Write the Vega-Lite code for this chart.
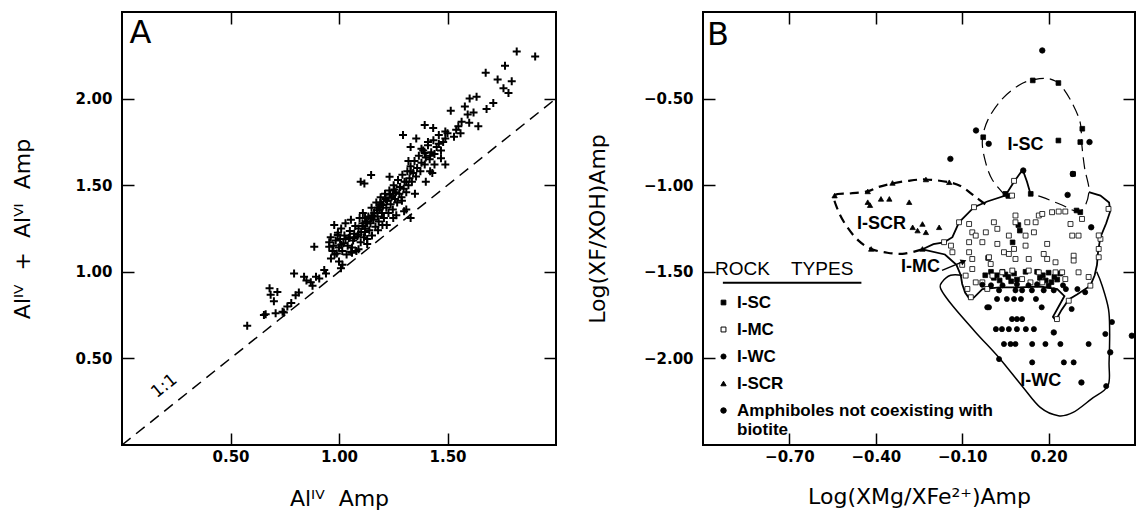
{
  "$schema": "https://vega.github.io/schema/vega-lite/v6.json",
  "background": "white",
  "padding": {"left": 10, "top": 10, "right": 0, "bottom": 0},
  "bounds": "flush",
  "spacing": 147,
  "config": {
    "view": {"stroke": "black", "strokeWidth": 2},
    "axis": {
      "domain": false, "grid": false, "tickColor": "black", "tickWidth": 1.5, "tickSize": -12,
      "labelFont": "DejaVu Sans", "labelFontSize": 15, "labelFontWeight": "bold", "labelColor": "black",
      "titleFont": "DejaVu Sans", "titleFontSize": 22, "titleFontWeight": "normal", "titleColor": "black",
      "labelPadding": 16
    },
    "axisLeft": {"labelPadding": 22},
    "legend": {
      "orient": "none", "legendX": 593, "legendY": 248,
      "titleFont": "Liberation Sans", "titleFontSize": 19, "titleFontWeight": "normal", "titleColor": "black", "titlePadding": 15,
      "labelFont": "Liberation Sans", "labelFontSize": 17, "labelFontWeight": "bold", "labelColor": "black",
      "rowPadding": 9, "symbolStrokeColor": "black", "symbolStrokeWidth": 1, "labelLimit": 400, "labelOffset": 5
    }
  },
  "datasets": {
    "a_pts": [
      {"x":0.577,"y":0.688},{"x":0.654,"y":0.75},{"x":0.662,"y":0.755},{"x":0.685,"y":0.867},{"x":0.68,"y":0.905},{"x":0.70,"y":0.83},{"x":0.716,"y":0.884},{"x":0.708,"y":0.76},{"x":0.74,"y":0.77},{"x":0.746,"y":0.765},{"x":0.762,"y":0.80},{"x":0.78,"y":0.82},{"x":0.793,"y":0.99},{"x":0.80,"y":0.865},{"x":0.815,"y":0.88},{"x":0.839,"y":0.971},{"x":0.85,"y":0.95},{"x":0.87,"y":0.94},{"x":0.878,"y":0.92},{"x":0.894,"y":0.971},{"x":0.886,"y":1.145},{"x":0.909,"y":0.961},{"x":0.932,"y":1.01},{"x":0.94,"y":0.99},{"x":0.955,"y":1.145},{"x":0.963,"y":1.077},{"x":0.978,"y":1.27},{"x":0.994,"y":1.212},{"x":1.0,"y":1.06},{"x":1.009,"y":1.02},{"x":1.016,"y":1.04},{"x":1.056,"y":1.116},{"x":1.09,"y":1.13},{"x":1.117,"y":1.51},{"x":1.148,"y":1.559},{"x":1.233,"y":1.549},{"x":1.10,"y":1.52},
      {"x":0.955,"y":1.17},{"x":0.962,"y":1.20},{"x":0.97,"y":1.12},{"x":0.975,"y":1.15},{"x":0.985,"y":1.18},{"x":0.99,"y":1.105},{"x":0.995,"y":1.225},{"x":1.0,"y":1.14},{"x":1.005,"y":1.19},{"x":1.01,"y":1.25},{"x":1.015,"y":1.12},{"x":1.02,"y":1.165},{"x":1.025,"y":1.21},{"x":1.03,"y":1.28},{"x":1.035,"y":1.10},{"x":1.04,"y":1.15},{"x":1.045,"y":1.195},{"x":1.05,"y":1.235},{"x":1.055,"y":1.30},{"x":1.06,"y":1.14},{"x":1.065,"y":1.18},{"x":1.07,"y":1.22},{"x":1.075,"y":1.265},{"x":1.08,"y":1.12},{"x":1.085,"y":1.205},{"x":1.09,"y":1.25},{"x":1.095,"y":1.31},{"x":1.10,"y":1.17},{"x":1.102,"y":1.23},{"x":1.108,"y":1.28},{"x":1.11,"y":1.34},{"x":1.115,"y":1.20},{"x":1.12,"y":1.25},{"x":1.125,"y":1.29},{"x":1.13,"y":1.16},{"x":1.135,"y":1.32},{"x":1.14,"y":1.24},{"x":1.145,"y":1.28},{"x":1.15,"y":1.37},{"x":1.152,"y":1.21},{"x":1.158,"y":1.30},{"x":1.162,"y":1.34},{"x":1.168,"y":1.26},{"x":1.172,"y":1.40},{"x":1.178,"y":1.32},{"x":1.183,"y":1.29},{"x":1.188,"y":1.36},{"x":1.192,"y":1.43},{"x":1.198,"y":1.34},{"x":1.203,"y":1.385},{"x":1.207,"y":1.31},{"x":1.212,"y":1.45},{"x":1.218,"y":1.37},{"x":1.222,"y":1.41},{"x":1.228,"y":1.34},{"x":1.232,"y":1.47},{"x":1.238,"y":1.39},{"x":1.242,"y":1.43},{"x":1.248,"y":1.36},{"x":1.252,"y":1.50},{"x":1.258,"y":1.42},{"x":1.262,"y":1.46},{"x":1.268,"y":1.40},{"x":1.272,"y":1.53},{"x":1.278,"y":1.45},{"x":1.282,"y":1.49},{"x":1.288,"y":1.43},{"x":1.292,"y":1.56},{"x":1.298,"y":1.48},{"x":1.302,"y":1.52},{"x":1.31,"y":1.46},{"x":1.315,"y":1.58},{"x":1.32,"y":1.50},{"x":1.325,"y":1.54},{"x":1.33,"y":1.61},{"x":1.336,"y":1.52},{"x":1.342,"y":1.57},{"x":1.348,"y":1.64},{"x":1.355,"y":1.55},{"x":1.36,"y":1.60},{"x":1.368,"y":1.67},{"x":1.375,"y":1.58},{"x":1.38,"y":1.63},{"x":1.388,"y":1.70},{"x":1.395,"y":1.62},{"x":1.40,"y":1.66},{"x":1.41,"y":1.73},{"x":1.418,"y":1.65},{"x":1.425,"y":1.69},{"x":1.435,"y":1.76},{"x":1.44,"y":1.68},{"x":1.45,"y":1.72},{"x":1.46,"y":1.79},{"x":1.47,"y":1.70},{"x":1.48,"y":1.75},{"x":1.49,"y":1.81},
      {"x":1.01,"y":1.156},{"x":0.98,"y":1.10},{"x":1.06,"y":1.11},{"x":1.13,"y":1.19},{"x":1.2,"y":1.27},{"x":1.264,"y":1.327},{"x":1.31,"y":1.36},{"x":1.18,"y":1.24},{"x":1.25,"y":1.31},{"x":1.35,"y":1.45},{"x":1.40,"y":1.52},{"x":1.43,"y":1.57},
      {"x":1.07,"y":1.195},{"x":1.09,"y":1.215},{"x":1.11,"y":1.265},{"x":1.13,"y":1.28},{"x":1.155,"y":1.325},{"x":1.175,"y":1.355},{"x":1.195,"y":1.39},{"x":1.215,"y":1.42},{"x":1.235,"y":1.445},{"x":1.255,"y":1.475},{"x":1.03,"y":1.19},{"x":1.05,"y":1.20},{"x":1.12,"y":1.31},{"x":1.19,"y":1.40},
      {"x":1.819,"y":2.272},{"x":1.904,"y":2.243},{"x":1.765,"y":2.19},{"x":1.676,"y":2.149},{"x":1.731,"y":2.11},{"x":1.796,"y":2.10},{"x":1.758,"y":2.06},{"x":1.781,"y":2.033},{"x":1.634,"y":2.01},{"x":1.602,"y":2.0},{"x":1.711,"y":1.975},{"x":1.58,"y":1.954},{"x":1.515,"y":1.93},{"x":1.68,"y":1.94},{"x":1.593,"y":1.908},{"x":1.642,"y":1.84},{"x":1.565,"y":1.867},{"x":1.395,"y":1.847},{"x":1.434,"y":1.83},{"x":1.295,"y":1.79},{"x":1.54,"y":1.82},{"x":1.50,"y":1.80},{"x":1.356,"y":1.77},{"x":1.41,"y":1.75},{"x":1.49,"y":1.77},{"x":1.56,"y":1.80},{"x":1.33,"y":1.72},{"x":1.395,"y":1.686},{"x":1.42,"y":1.67},{"x":1.47,"y":1.655},{"x":1.44,"y":1.62},{"x":1.42,"y":1.58},{"x":1.49,"y":1.62},{"x":1.32,"y":1.64},{"x":1.33,"y":1.58},{"x":1.31,"y":1.52},{"x":1.28,"y":1.49},{"x":1.25,"y":1.45},{"x":1.29,"y":1.41},{"x":1.22,"y":1.41},{"x":1.30,"y":1.35},{"x":1.33,"y":1.31},{"x":1.18,"y":1.37},{"x":1.15,"y":1.31},{"x":1.22,"y":1.27},{"x":1.12,"y":1.23},{"x":1.53,"y":1.78},{"x":1.60,"y":1.86},{"x":1.62,"y":1.92},{"x":1.55,"y":1.84},{"x":1.46,"y":1.74},{"x":1.38,"y":1.71}
    ],
    "a_line": [{"x":0,"y":0},{"x":2,"y":2}],
    "a_ann": [{"x":0.195,"y":0.34,"t":"1:1"}],
    "a_letter": [{"x":0.035,"y":2.32,"t":"A"}],
    "b_letter": [{"x":-0.986,"y":-0.19,"t":"B"}],
    "b_pts": [
      {"x":0.145,"y":-0.395,"type":"I-SC"},{"x":0.234,"y":-0.41,"type":"I-SC"},{"x":0.317,"y":-0.674,"type":"I-SC"},{"x":0.31,"y":-0.751,"type":"I-SC"},{"x":0.234,"y":-0.742,"type":"I-SC"},{"x":0.285,"y":-0.935,"type":"I-SC"},{"x":-0.027,"y":-0.723,"type":"I-SC"},{"x":0.05,"y":-1.05,"type":"I-SC"},{"x":0.138,"y":-1.05,"type":"I-SC"},{"x":0.31,"y":-1.156,"type":"I-SC"},{"x":0.297,"y":-1.146,"type":"I-SC"},{"x":0.10,"y":-1.262,"type":"I-SC"},{"x":0.06,"y":-1.062,"type":"I-SC"},{"x":-0.01,"y":-1.42,"type":"I-SC"},{"x":0.095,"y":-1.23,"type":"I-SC"},{"x":0.0,"y":-1.50,"type":"I-SC"},{"x":0.02,"y":-1.52,"type":"I-SC"},{"x":0.04,"y":-1.50,"type":"I-SC"},{"x":0.06,"y":-1.53,"type":"I-SC"},{"x":0.08,"y":-1.51,"type":"I-SC"},{"x":0.03,"y":-1.55,"type":"I-SC"},{"x":0.07,"y":-1.555,"type":"I-SC"},{"x":0.01,"y":-1.535,"type":"I-SC"},{"x":0.09,"y":-1.545,"type":"I-SC"},{"x":0.05,"y":-1.515,"type":"I-SC"},{"x":0.16,"y":-1.50,"type":"I-SC"},{"x":0.18,"y":-1.52,"type":"I-SC"},{"x":0.20,"y":-1.505,"type":"I-SC"},{"x":0.22,"y":-1.53,"type":"I-SC"},{"x":0.24,"y":-1.51,"type":"I-SC"},{"x":0.19,"y":-1.55,"type":"I-SC"},{"x":0.21,"y":-1.56,"type":"I-SC"},{"x":0.17,"y":-1.535,"type":"I-SC"},{"x":0.23,"y":-1.545,"type":"I-SC"},{"x":0.20,"y":-1.58,"type":"I-SC"},{"x":-0.02,"y":-1.52,"type":"I-SC"},{"x":0.12,"y":-1.50,"type":"I-SC"},{"x":0.075,"y":-1.33,"type":"I-SC"},
      {"x":-0.163,"y":-1.329,"type":"I-MC"},{"x":-0.139,"y":-1.349,"type":"I-MC"},{"x":-0.134,"y":-1.387,"type":"I-MC"},{"x":-0.111,"y":-1.214,"type":"I-MC"},{"x":-0.076,"y":-1.224,"type":"I-MC"},{"x":-0.059,"y":-1.127,"type":"I-MC"},{"x":-0.065,"y":-1.272,"type":"I-MC"},{"x":-0.053,"y":-1.291,"type":"I-MC"},{"x":-0.018,"y":-1.272,"type":"I-MC"},{"x":-0.030,"y":-1.329,"type":"I-MC"},{"x":-0.076,"y":-1.329,"type":"I-MC"},{"x":-0.076,"y":-1.387,"type":"I-MC"},{"x":-0.065,"y":-1.426,"type":"I-MC"},{"x":0.010,"y":-1.214,"type":"I-MC"},{"x":0.022,"y":-1.252,"type":"I-MC"},{"x":0.022,"y":-1.339,"type":"I-MC"},{"x":0.045,"y":-1.387,"type":"I-MC"},{"x":0.062,"y":-1.397,"type":"I-MC"},{"x":0.085,"y":-1.175,"type":"I-MC"},{"x":0.085,"y":-1.214,"type":"I-MC"},{"x":0.062,"y":-1.291,"type":"I-MC"},{"x":0.080,"y":-1.368,"type":"I-MC"},{"x":0.085,"y":-1.426,"type":"I-MC"},{"x":0.120,"y":-1.291,"type":"I-MC"},{"x":0.120,"y":-1.349,"type":"I-MC"},{"x":0.131,"y":-1.426,"type":"I-MC"},{"x":0.149,"y":-1.272,"type":"I-MC"},{"x":0.126,"y":-1.214,"type":"I-MC"},{"x":0.155,"y":-1.214,"type":"I-MC"},{"x":0.166,"y":-1.175,"type":"I-MC"},{"x":0.178,"y":-1.166,"type":"I-MC"},{"x":0.195,"y":-1.339,"type":"I-MC"},{"x":0.183,"y":-1.397,"type":"I-MC"},{"x":0.195,"y":-1.426,"type":"I-MC"},{"x":0.224,"y":-1.445,"type":"I-MC"},{"x":0.212,"y":-1.156,"type":"I-MC"},{"x":0.235,"y":-1.152,"type":"I-MC"},{"x":0.258,"y":-1.152,"type":"I-MC"},{"x":0.276,"y":-1.224,"type":"I-MC"},{"x":0.282,"y":-1.291,"type":"I-MC"},{"x":0.304,"y":-1.291,"type":"I-MC"},{"x":0.287,"y":-1.407,"type":"I-MC"},{"x":0.287,"y":-1.435,"type":"I-MC"},{"x":0.316,"y":-1.195,"type":"I-MC"},{"x":0.408,"y":-1.137,"type":"I-MC"},{"x":0.380,"y":-1.310,"type":"I-MC"},{"x":0.374,"y":-1.368,"type":"I-MC"},{"x":0.374,"y":-1.416,"type":"I-MC"},{"x":0.345,"y":-1.58,"type":"I-MC"},{"x":0.304,"y":-1.503,"type":"I-MC"},{"x":0.270,"y":-1.667,"type":"I-MC"},{"x":0.229,"y":-1.773,"type":"I-MC"},{"x":-0.088,"y":-1.522,"type":"I-MC"},{"x":-0.082,"y":-1.599,"type":"I-MC"},{"x":-0.070,"y":-1.647,"type":"I-MC"},{"x":-0.053,"y":-1.561,"type":"I-MC"},{"x":-0.065,"y":-1.484,"type":"I-MC"},{"x":-0.007,"y":-1.416,"type":"I-MC"},{"x":-0.001,"y":-1.455,"type":"I-MC"},{"x":0.005,"y":-1.522,"type":"I-MC"},{"x":0.039,"y":-1.503,"type":"I-MC"},{"x":0.074,"y":-1.493,"type":"I-MC"},{"x":0.108,"y":-1.542,"type":"I-MC"},{"x":0.131,"y":-1.493,"type":"I-MC"},{"x":0.137,"y":-1.561,"type":"I-MC"},{"x":0.166,"y":-1.503,"type":"I-MC"},{"x":0.178,"y":-1.561,"type":"I-MC"},{"x":0.224,"y":-1.503,"type":"I-MC"},{"x":0.247,"y":-1.503,"type":"I-MC"},{"x":0.258,"y":-1.542,"type":"I-MC"},{"x":-0.03,"y":-1.561,"type":"I-MC"},{"x":-0.013,"y":-1.599,"type":"I-MC"},{"x":0.073,"y":-1.06,"type":"I-MC"},{"x":0.08,"y":-0.975,"type":"I-MC"},{"x":0.374,"y":-1.29,"type":"I-MC"},{"x":0.339,"y":-1.53,"type":"I-MC"},{"x":-0.10,"y":-1.46,"type":"I-MC"},
      {"x":0.028,"y":-1.607,"type":"I-WC"},{"x":0.085,"y":-1.607,"type":"I-WC"},{"x":0.108,"y":-1.607,"type":"I-WC"},{"x":0.142,"y":-1.607,"type":"I-WC"},{"x":0.183,"y":-1.607,"type":"I-WC"},{"x":0.218,"y":-1.607,"type":"I-WC"},{"x":0.021,"y":-1.657,"type":"I-WC"},{"x":0.055,"y":-1.657,"type":"I-WC"},{"x":0.080,"y":-1.657,"type":"I-WC"},{"x":0.104,"y":-1.657,"type":"I-WC"},{"x":0.156,"y":-1.657,"type":"I-WC"},{"x":-0.007,"y":-1.705,"type":"I-WC"},{"x":0.176,"y":-1.705,"type":"I-WC"},{"x":0.28,"y":-1.715,"type":"I-WC"},{"x":0.073,"y":-1.773,"type":"I-WC"},{"x":0.09,"y":-1.773,"type":"I-WC"},{"x":0.108,"y":-1.773,"type":"I-WC"},{"x":0.017,"y":-1.831,"type":"I-WC"},{"x":0.038,"y":-1.831,"type":"I-WC"},{"x":0.062,"y":-1.831,"type":"I-WC"},{"x":0.090,"y":-1.831,"type":"I-WC"},{"x":0.121,"y":-1.831,"type":"I-WC"},{"x":0.149,"y":-1.831,"type":"I-WC"},{"x":0.045,"y":-1.917,"type":"I-WC"},{"x":0.068,"y":-1.917,"type":"I-WC"},{"x":0.085,"y":-1.917,"type":"I-WC"},{"x":0.143,"y":-1.917,"type":"I-WC"},{"x":0.189,"y":-1.917,"type":"I-WC"},{"x":0.241,"y":-1.917,"type":"I-WC"},{"x":0.339,"y":-1.917,"type":"I-WC"},{"x":0.143,"y":-2.023,"type":"I-WC"},{"x":0.253,"y":-2.023,"type":"I-WC"},{"x":0.287,"y":-2.023,"type":"I-WC"},{"x":-0.013,"y":-1.705,"type":"I-WC"},{"x":0.028,"y":-2.004,"type":"I-WC"},{"x":0.42,"y":-1.79,"type":"I-WC"},{"x":0.397,"y":-1.859,"type":"I-WC"},{"x":0.327,"y":-1.618,"type":"I-WC"},{"x":0.30,"y":-1.60,"type":"I-WC"},{"x":0.40,"y":-2.16,"type":"I-WC"},{"x":-0.03,"y":-1.575,"type":"I-WC"},{"x":0.0,"y":-1.578,"type":"I-WC"},{"x":0.04,"y":-1.578,"type":"I-WC"},{"x":0.09,"y":-1.572,"type":"I-WC"},{"x":0.13,"y":-1.578,"type":"I-WC"},{"x":0.16,"y":-1.572,"type":"I-WC"},{"x":0.25,"y":-1.578,"type":"I-WC"},{"x":0.26,"y":-1.60,"type":"I-WC"},
      {"x":-0.543,"y":-1.06,"type":"I-SCR"},{"x":-0.428,"y":-1.036,"type":"I-SCR"},{"x":-0.428,"y":-1.098,"type":"I-SCR"},{"x":-0.42,"y":-1.115,"type":"I-SCR"},{"x":-0.382,"y":-1.079,"type":"I-SCR"},{"x":-0.353,"y":-1.079,"type":"I-SCR"},{"x":-0.342,"y":-0.987,"type":"I-SCR"},{"x":-0.284,"y":-1.098,"type":"I-SCR"},{"x":-0.226,"y":-0.967,"type":"I-SCR"},{"x":-0.145,"y":-0.983,"type":"I-SCR"},{"x":-0.272,"y":-1.243,"type":"I-SCR"},{"x":-0.255,"y":-1.262,"type":"I-SCR"},{"x":-0.238,"y":-1.224,"type":"I-SCR"},{"x":-0.226,"y":-1.272,"type":"I-SCR"},{"x":-0.18,"y":-1.243,"type":"I-SCR"},{"x":-0.416,"y":-1.368,"type":"I-SCR"},{"x":-0.238,"y":-1.368,"type":"I-SCR"},
      {"x":0.178,"y":-0.222,"type":"Amphiboles not coexisting with biotite"},{"x":-0.052,"y":-0.684,"type":"Amphiboles not coexisting with biotite"},{"x":-0.008,"y":-0.761,"type":"Amphiboles not coexisting with biotite"},{"x":-0.141,"y":-0.848,"type":"Amphiboles not coexisting with biotite"},{"x":0.342,"y":-0.751,"type":"Amphiboles not coexisting with biotite"},{"x":0.284,"y":-0.935,"type":"Amphiboles not coexisting with biotite"},{"x":0.266,"y":-1.056,"type":"Amphiboles not coexisting with biotite"},{"x":0.348,"y":-1.243,"type":"Amphiboles not coexisting with biotite"},{"x":0.218,"y":-1.85,"type":"Amphiboles not coexisting with biotite"},{"x":0.489,"y":-1.869,"type":"Amphiboles not coexisting with biotite"},{"x":0.414,"y":-1.965,"type":"Amphiboles not coexisting with biotite"},{"x":0.314,"y":-2.139,"type":"Amphiboles not coexisting with biotite"},{"x":0.112,"y":-0.915,"type":"Amphiboles not coexisting with biotite"}
    ],
    "b_curves": [
      {"c":"SC","o":1,"x":0.05,"y":-1.06},{"c":"SC","o":2,"x":0.005,"y":-0.97},{"c":"SC","o":3,"x":-0.02,"y":-0.86},{"c":"SC","o":4,"x":-0.03,"y":-0.74},{"c":"SC","o":5,"x":-0.01,"y":-0.62},{"c":"SC","o":6,"x":0.04,"y":-0.50},{"c":"SC","o":7,"x":0.10,"y":-0.42},{"c":"SC","o":8,"x":0.15,"y":-0.39},{"c":"SC","o":9,"x":0.20,"y":-0.385},{"c":"SC","o":10,"x":0.24,"y":-0.42},{"c":"SC","o":11,"x":0.28,"y":-0.52},{"c":"SC","o":12,"x":0.31,"y":-0.64},{"c":"SC","o":13,"x":0.315,"y":-0.76},{"c":"SC","o":14,"x":0.325,"y":-0.90},{"c":"SC","o":15,"x":0.34,"y":-1.04},{"c":"SC","o":16,"x":0.31,"y":-1.15},{"c":"SC","o":17,"x":0.24,"y":-1.11},{"c":"SC","o":18,"x":0.18,"y":-1.07},{"c":"SC","o":19,"x":0.137,"y":-1.05},
      {"c":"SCR","o":1,"x":-0.02,"y":-1.11},{"c":"SCR","o":2,"x":-0.06,"y":-1.06},{"c":"SCR","o":3,"x":-0.10,"y":-1.01},{"c":"SCR","o":4,"x":-0.145,"y":-0.983},{"c":"SCR","o":5,"x":-0.226,"y":-0.967},{"c":"SCR","o":6,"x":-0.29,"y":-0.975},{"c":"SCR","o":7,"x":-0.342,"y":-0.99},{"c":"SCR","o":8,"x":-0.39,"y":-1.01},{"c":"SCR","o":9,"x":-0.43,"y":-1.036},{"c":"SCR","o":10,"x":-0.49,"y":-1.048},{"c":"SCR","o":11,"x":-0.543,"y":-1.06},{"c":"SCR","o":12,"x":-0.53,"y":-1.15},{"c":"SCR","o":13,"x":-0.50,"y":-1.24},{"c":"SCR","o":14,"x":-0.46,"y":-1.32},{"c":"SCR","o":15,"x":-0.416,"y":-1.368},{"c":"SCR","o":16,"x":-0.36,"y":-1.39},{"c":"SCR","o":17,"x":-0.30,"y":-1.395},{"c":"SCR","o":18,"x":-0.238,"y":-1.37},
      {"c":"MC","o":1,"x":-0.238,"y":-1.37},{"c":"MC","o":2,"x":-0.20,"y":-1.34},{"c":"MC","o":3,"x":-0.163,"y":-1.33},{"c":"MC","o":4,"x":-0.134,"y":-1.30},{"c":"MC","o":5,"x":-0.111,"y":-1.214},{"c":"MC","o":6,"x":-0.059,"y":-1.127},{"c":"MC","o":7,"x":-0.013,"y":-1.094},{"c":"MC","o":8,"x":0.05,"y":-1.06},{"c":"MC","o":9,"x":0.08,"y":-0.98},{"c":"MC","o":10,"x":0.11,"y":-0.91},{"c":"MC","o":11,"x":0.125,"y":-0.98},{"c":"MC","o":12,"x":0.137,"y":-1.05},
      {"c":"MC2","o":1,"x":0.34,"y":-1.04},{"c":"MC2","o":2,"x":0.38,"y":-1.06},{"c":"MC2","o":3,"x":0.41,"y":-1.10},{"c":"MC2","o":4,"x":0.414,"y":-1.15},{"c":"MC2","o":5,"x":0.40,"y":-1.22},{"c":"MC2","o":6,"x":0.38,"y":-1.30},{"c":"MC2","o":7,"x":0.372,"y":-1.38},{"c":"MC2","o":8,"x":0.368,"y":-1.46},{"c":"MC2","o":9,"x":0.36,"y":-1.52},{"c":"MC2","o":10,"x":0.345,"y":-1.58},{"c":"MC2","o":11,"x":0.30,"y":-1.63},{"c":"MC2","o":12,"x":0.27,"y":-1.66},{"c":"MC2","o":13,"x":0.245,"y":-1.72},{"c":"MC2","o":14,"x":0.225,"y":-1.78},{"c":"MC2","o":15,"x":0.215,"y":-1.76},{"c":"MC2","o":16,"x":0.235,"y":-1.70},{"c":"MC2","o":17,"x":0.255,"y":-1.64},{"c":"MC2","o":18,"x":0.23,"y":-1.60},{"c":"MC2","o":19,"x":0.17,"y":-1.585},{"c":"MC2","o":20,"x":0.10,"y":-1.59},{"c":"MC2","o":21,"x":0.03,"y":-1.59},{"c":"MC2","o":22,"x":-0.03,"y":-1.60},{"c":"MC2","o":23,"x":-0.06,"y":-1.65},{"c":"MC2","o":24,"x":-0.075,"y":-1.655},{"c":"MC2","o":25,"x":-0.09,"y":-1.62},{"c":"MC2","o":26,"x":-0.10,"y":-1.57},{"c":"MC2","o":27,"x":-0.105,"y":-1.52},{"c":"MC2","o":28,"x":-0.12,"y":-1.46},{"c":"MC2","o":29,"x":-0.16,"y":-1.40},{"c":"MC2","o":30,"x":-0.238,"y":-1.37},
      {"c":"WC","o":1,"x":-0.10,"y":-1.52},{"c":"WC","o":2,"x":-0.14,"y":-1.52},{"c":"WC","o":3,"x":-0.17,"y":-1.56},{"c":"WC","o":4,"x":-0.174,"y":-1.60},{"c":"WC","o":5,"x":-0.134,"y":-1.695},{"c":"WC","o":6,"x":-0.053,"y":-1.85},{"c":"WC","o":7,"x":0.03,"y":-2.0},{"c":"WC","o":8,"x":0.107,"y":-2.158},{"c":"WC","o":9,"x":0.171,"y":-2.283},{"c":"WC","o":10,"x":0.234,"y":-2.331},{"c":"WC","o":11,"x":0.285,"y":-2.312},{"c":"WC","o":12,"x":0.348,"y":-2.235},{"c":"WC","o":13,"x":0.406,"y":-2.158},{"c":"WC","o":14,"x":0.41,"y":-2.023},{"c":"WC","o":15,"x":0.412,"y":-1.85},{"c":"WC","o":16,"x":0.408,"y":-1.715},{"c":"WC","o":17,"x":0.386,"y":-1.58},{"c":"WC","o":18,"x":0.367,"y":-1.50}
    ],
    "b_lab": [
      {"x":0.12,"y":-0.77,"t":"I-SC"},
      {"x":-0.38,"y":-1.225,"t":"I-SCR"},
      {"x":-0.245,"y":-1.474,"t":"I-MC"},
      {"x":0.173,"y":-2.13,"t":"I-WC"}
    ],
    "b_arrow": [{"x":-0.17,"y":-1.492,"x2":-0.095,"y2":-1.44}],
    "b_under": [{"x":-0.931,"x2":-0.45,"y":-1.563}]
  },
  "hconcat": [
    {
      "width": 434,
      "height": 433,
      "layer": [
        {
          "data": {"name": "a_pts"},
          "mark": {"type": "point", "shape": "M-1,0H1M0,-1V1", "filled": false, "stroke": "black", "strokeWidth": 2, "size": 64, "opacity": 1},
          "encoding": {
            "x": {"field": "x", "type": "quantitative", "scale": {"domain": [0, 2], "nice": false, "zero": false},
                  "axis": {"orient": "bottom", "values": [0.5, 1, 1.5], "format": ".2f", "title": "Alᴵⱽ\u00a0\u00a0Amp", "titlePadding": 24}},
            "y": {"field": "y", "type": "quantitative", "scale": {"domain": [0, 2.5], "nice": false, "zero": false},
                  "axis": {"orient": "left", "values": [0.5, 1, 1.5, 2], "format": ".2f", "title": "Alᴵⱽ\u00a0\u00a0+\u00a0\u00a0Alⱽᴵ\u00a0\u00a0Amp", "titlePadding": 40}}
          }
        },
        {
          "data": {"name": "a_line"},
          "mark": {"type": "line", "stroke": "black", "strokeWidth": 1.5, "strokeDash": [11, 7]},
          "encoding": {
            "x": {"field": "x", "type": "quantitative", "scale": {"domain": [0, 2], "nice": false, "zero": false},
                  "axis": {"orient": "top", "values": [0.5, 1, 1.5], "labels": false, "title": null}},
            "y": {"field": "y", "type": "quantitative", "scale": {"domain": [0, 2.5], "nice": false, "zero": false},
                  "axis": {"orient": "right", "values": [0.5, 1, 1.5, 2], "labels": false, "title": null}}
          }
        },
        {
          "data": {"name": "a_ann"},
          "mark": {"type": "text", "angle": -39, "fontSize": 17, "font": "DejaVu Sans", "color": "black"},
          "encoding": {
            "x": {"field": "x", "type": "quantitative", "axis": null},
            "y": {"field": "y", "type": "quantitative", "axis": null},
            "text": {"field": "t"}
          }
        },
        {
          "data": {"name": "a_letter"},
          "mark": {"type": "text", "align": "left", "baseline": "alphabetic", "fontSize": 32, "font": "DejaVu Sans", "color": "black"},
          "encoding": {
            "x": {"field": "x", "type": "quantitative", "axis": null},
            "y": {"field": "y", "type": "quantitative", "axis": null},
            "text": {"field": "t"}
          }
        }
      ],
      "resolve": {"axis": {"x": "independent", "y": "independent"}}
    },
    {
      "width": 432,
      "height": 433,
      "layer": [
        {
          "data": {"name": "b_curves"},
          "transform": [{"filter": "datum.c == 'SCR'"}],
          "mark": {"type": "line", "stroke": "black", "strokeWidth": 2.2, "strokeDash": [9, 6], "interpolate": "cardinal"},
          "encoding": {
            "x": {"field": "x", "type": "quantitative", "scale": {"domain": [-1, 0.5], "nice": false, "zero": false},
                  "axis": {"orient": "top", "values": [-0.7, -0.4, -0.1, 0.2], "labels": false, "title": null}},
            "y": {"field": "y", "type": "quantitative", "scale": {"domain": [-2.5, 0], "nice": false, "zero": false},
                  "axis": {"orient": "right", "values": [-0.5, -1, -1.5, -2], "labels": false, "title": null}},
            "order": {"field": "o"}
          }
        },
        {
          "data": {"name": "b_curves"},
          "transform": [{"filter": "datum.c == 'SC'"}],
          "mark": {"type": "line", "stroke": "black", "strokeWidth": 1.2, "strokeDash": [12, 6], "interpolate": "cardinal"},
          "encoding": {
            "x": {"field": "x", "type": "quantitative", "axis": null},
            "y": {"field": "y", "type": "quantitative", "axis": null},
            "order": {"field": "o"}
          }
        },
        {
          "data": {"name": "b_curves"},
          "transform": [{"filter": "datum.c == 'MC' || datum.c == 'MC2'"}],
          "mark": {"type": "line", "stroke": "black", "strokeWidth": 1.8},
          "encoding": {
            "x": {"field": "x", "type": "quantitative", "axis": null},
            "y": {"field": "y", "type": "quantitative", "axis": null},
            "detail": {"field": "c"},
            "order": {"field": "o"}
          }
        },
        {
          "data": {"name": "b_curves"},
          "transform": [{"filter": "datum.c == 'WC'"}],
          "mark": {"type": "line", "stroke": "black", "strokeWidth": 1.5, "interpolate": "cardinal"},
          "encoding": {
            "x": {"field": "x", "type": "quantitative", "axis": null},
            "y": {"field": "y", "type": "quantitative", "axis": null},
            "order": {"field": "o"}
          }
        },
        {
          "data": {"name": "b_pts"},
          "mark": {"type": "point", "filled": true, "strokeWidth": 0.8, "opacity": 1},
          "encoding": {
            "x": {"field": "x", "type": "quantitative",
                  "axis": {"orient": "bottom", "values": [-0.7, -0.4, -0.1, 0.2], "format": ".2f", "title": "Log(XMg/XFe²⁺)Amp", "titlePadding": 22}},
            "y": {"field": "y", "type": "quantitative",
                  "axis": {"orient": "left", "values": [-0.5, -1, -1.5, -2], "format": ".2f", "title": "Log(XF/XOH)Amp", "titlePadding": 34}},
            "shape": {"field": "type", "type": "nominal",
                      "scale": {"domain": ["I-SC", "I-MC", "I-WC", "I-SCR", "Amphiboles not coexisting with biotite"], "range": ["square", "square", "circle", "triangle-up", "circle"]},
                      "legend": {"title": "ROCK\u00a0\u00a0\u00a0\u00a0TYPES", "labelExpr": "datum.label == 'Amphiboles not coexisting with biotite' ? ['Amphiboles not coexisting with', 'biotite'] : datum.label"}},
            "fill": {"field": "type", "type": "nominal",
                     "scale": {"domain": ["I-SC", "I-MC", "I-WC", "I-SCR", "Amphiboles not coexisting with biotite"], "range": ["black", "white", "black", "black", "black"]},
                     "legend": {"title": "ROCK\u00a0\u00a0\u00a0\u00a0TYPES", "labelExpr": "datum.label == 'Amphiboles not coexisting with biotite' ? ['Amphiboles not coexisting with', 'biotite'] : datum.label"}},
            "stroke": {"field": "type", "type": "nominal",
                     "scale": {"domain": ["I-SC", "I-MC", "I-WC", "I-SCR", "Amphiboles not coexisting with biotite"], "range": ["black", "black", "black", "black", "black"]},
                     "legend": {"title": "ROCK\u00a0\u00a0\u00a0\u00a0TYPES", "labelExpr": "datum.label == 'Amphiboles not coexisting with biotite' ? ['Amphiboles not coexisting with', 'biotite'] : datum.label"}},
            "size": {"field": "type", "type": "nominal",
                     "scale": {"domain": ["I-SC", "I-MC", "I-WC", "I-SCR", "Amphiboles not coexisting with biotite"], "range": [22, 30, 6, 32, 70]},
                     "legend": {"title": "ROCK\u00a0\u00a0\u00a0\u00a0TYPES", "labelExpr": "datum.label == 'Amphiboles not coexisting with biotite' ? ['Amphiboles not coexisting with', 'biotite'] : datum.label"}}
          }
        },
        {
          "data": {"name": "b_lab"},
          "mark": {"type": "text", "font": "Liberation Sans", "fontSize": 18, "fontWeight": "bold", "color": "black"},
          "encoding": {
            "x": {"field": "x", "type": "quantitative", "axis": null},
            "y": {"field": "y", "type": "quantitative", "axis": null},
            "text": {"field": "t"}
          }
        },
        {
          "data": {"name": "b_arrow"},
          "mark": {"type": "rule", "stroke": "black", "strokeWidth": 1.5},
          "encoding": {
            "x": {"field": "x", "type": "quantitative", "axis": null},
            "y": {"field": "y", "type": "quantitative", "axis": null},
            "x2": {"field": "x2"},
            "y2": {"field": "y2"}
          }
        },
        {
          "data": {"name": "b_arrow"},
          "mark": {"type": "point", "shape": "triangle-right", "filled": true, "color": "black", "size": 45, "angle": 338, "opacity": 1},
          "encoding": {
            "x": {"field": "x2", "type": "quantitative", "axis": null},
            "y": {"field": "y2", "type": "quantitative", "axis": null}
          }
        },
        {
          "data": {"name": "b_under"},
          "mark": {"type": "rule", "stroke": "black", "strokeWidth": 2},
          "encoding": {
            "x": {"field": "x", "type": "quantitative", "axis": null},
            "x2": {"field": "x2"},
            "y": {"field": "y", "type": "quantitative", "axis": null}
          }
        },
        {
          "data": {"name": "b_letter"},
          "mark": {"type": "text", "align": "left", "baseline": "alphabetic", "fontSize": 32, "font": "DejaVu Sans", "color": "black"},
          "encoding": {
            "x": {"field": "x", "type": "quantitative", "axis": null},
            "y": {"field": "y", "type": "quantitative", "axis": null},
            "text": {"field": "t"}
          }
        }
      ],
      "resolve": {"axis": {"x": "independent", "y": "independent"}}
    }
  ]
}
